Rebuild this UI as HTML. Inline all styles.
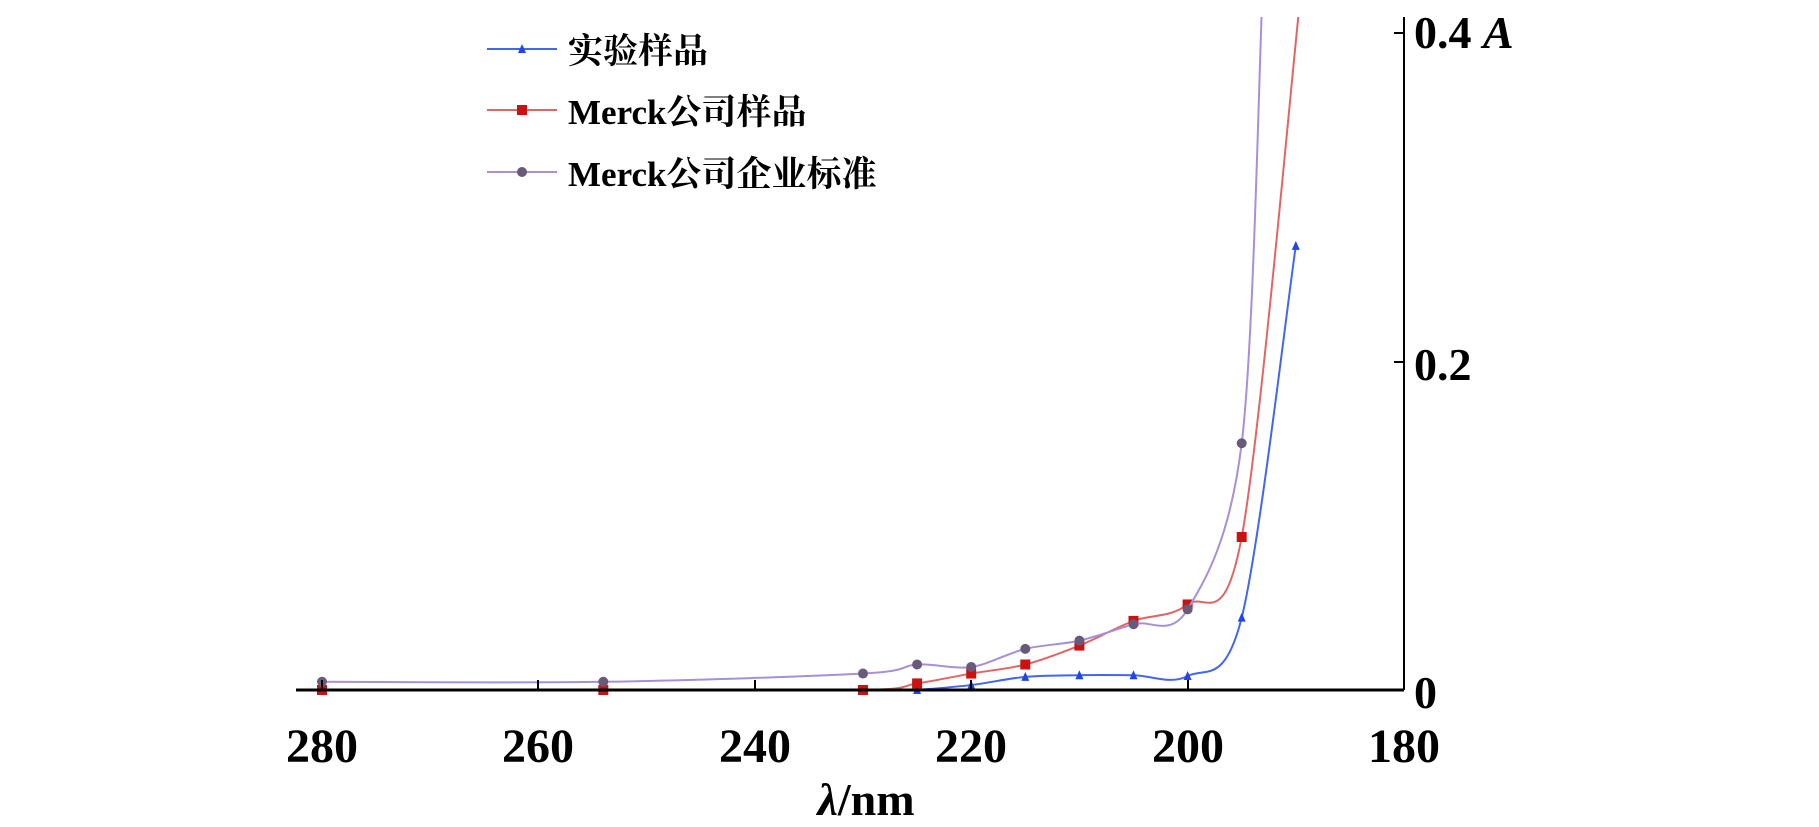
<!DOCTYPE html>
<html><head><meta charset="utf-8"><style>
html,body{margin:0;padding:0;background:#fff;}
svg{display:block;}
text{font-family:"Liberation Serif","Noto Serif CJK SC",serif;fill:#000;}
</style></head><body>
<svg id="s" width="1819" height="827" viewBox="0 0 1819 827" xmlns="http://www.w3.org/2000/svg">
<defs><clipPath id="c"><rect x="290" y="17" width="1114" height="680"/></clipPath></defs>
<g id="curves" clip-path="url(#c)"></g>
<line x1="296" y1="690" x2="1404" y2="690" stroke="#000" stroke-width="3"/>
<line x1="1404" y1="17" x2="1404" y2="690" stroke="#000" stroke-width="2"/>
<g stroke="#000" stroke-width="2">
<line x1="322" y1="690" x2="322" y2="680"/><line x1="538" y1="690" x2="538" y2="680"/><line x1="755" y1="690" x2="755" y2="680"/><line x1="971" y1="690" x2="971" y2="680"/><line x1="1188" y1="690" x2="1188" y2="680"/>
<line x1="1394" y1="362" x2="1404" y2="362"/><line x1="1394" y1="33" x2="1404" y2="33"/>
</g>
<g font-size="48" font-weight="bold" text-anchor="middle">
<text x="322" y="762">280</text><text x="538" y="762">260</text><text x="755" y="762">240</text><text x="971" y="762">220</text><text x="1188" y="762">200</text><text x="1404" y="762">180</text>
</g>
<text x="866" y="815" font-size="46" font-weight="bold" text-anchor="middle"><tspan font-style="italic">λ</tspan>/nm</text>
<g font-size="46" font-weight="bold">
<text x="1414" y="708">0</text><text x="1414" y="380">0.2</text><text x="1414" y="48">0.4 <tspan font-style="italic">A</tspan></text>
</g>
<g font-size="35" font-weight="bold">
<text x="568" y="63">实验样品</text>
<text x="568" y="124">Merck公司样品</text>
<text x="568" y="186">Merck公司企业标准</text>
</g>
<g id="leg"></g>
</svg>
<script>
var X=function(l){return 322+(280-l)*10.82;},Y=function(a){return 690-a*1645;};
var series=[
{c:"#4466ee",m:"t",p:[[225,0],[220,0.003],[215,0.008],[210,0.009],[205,0.009],[200,0.0085],[195,0.044],[190,0.27]],ly:49},
{c:"#e06666",m:"s",p:[[280,0],[254,0],[230,0],[225,0.004],[220,0.01],[215,0.0155],[210,0.027],[205,0.042],[200,0.052],[195,0.093],[189.6,0.42]],ly:110,nm:1},
{c:"#a690d8",m:"c",p:[[280,0.005],[254,0.005],[230,0.01],[225,0.0155],[220,0.014],[215,0.025],[210,0.03],[205,0.04],[200,0.049],[195,0.15],[193.1,0.42]],ly:172,nm:1}
];
var g=document.getElementById("curves"),lg=document.getElementById("leg"),NS="http://www.w3.org/2000/svg";
function el(t,a,p){var e=document.createElementNS(NS,t);for(var k in a)e.setAttribute(k,a[k]);p.appendChild(e);return e;}
function mk(m,x,y,c,p){
 if(m=="t")el("polygon",{points:(x-4)+","+(y+4)+" "+(x+4)+","+(y+4)+" "+x+","+(y-5),fill:"#2244ee"},p);
 else if(m=="s")el("rect",{x:x-5,y:y-5,width:10,height:10,fill:"#cc1111"},p);
 else el("circle",{cx:x,cy:y,r:5,fill:"#6a5a7a"},p);
}
series.forEach(function(s){
 var pts=s.p.map(function(q){return [X(q[0]),Y(q[1])];});
 var d="M"+pts[0][0]+","+pts[0][1];
 for(var i=0;i<pts.length-1;i++){
  var p0=pts[Math.max(0,i-1)],p1=pts[i],p2=pts[i+1],p3=pts[Math.min(pts.length-1,i+2)];
  var t=0.16;
  d+=" C"+(p1[0]+(p2[0]-p0[0])*t)+","+(p1[1]+(p2[1]-p0[1])*t)+" "+(p2[0]-(p3[0]-p1[0])*t)+","+(p2[1]-(p3[1]-p1[1])*t)+" "+p2[0]+","+p2[1];
 }
 el("path",{d:d,fill:"none",stroke:s.c,"stroke-width":2},g);
 var n=s.nm?pts.length-1:pts.length;
 for(var j=0;j<n;j++)mk(s.m,pts[j][0],pts[j][1],s.c,g);
 el("line",{x1:487,y1:s.ly,x2:557,y2:s.ly,stroke:s.c,"stroke-width":2},lg);
 mk(s.m,522,s.ly,s.c,lg);
});
</script>
</body></html>
